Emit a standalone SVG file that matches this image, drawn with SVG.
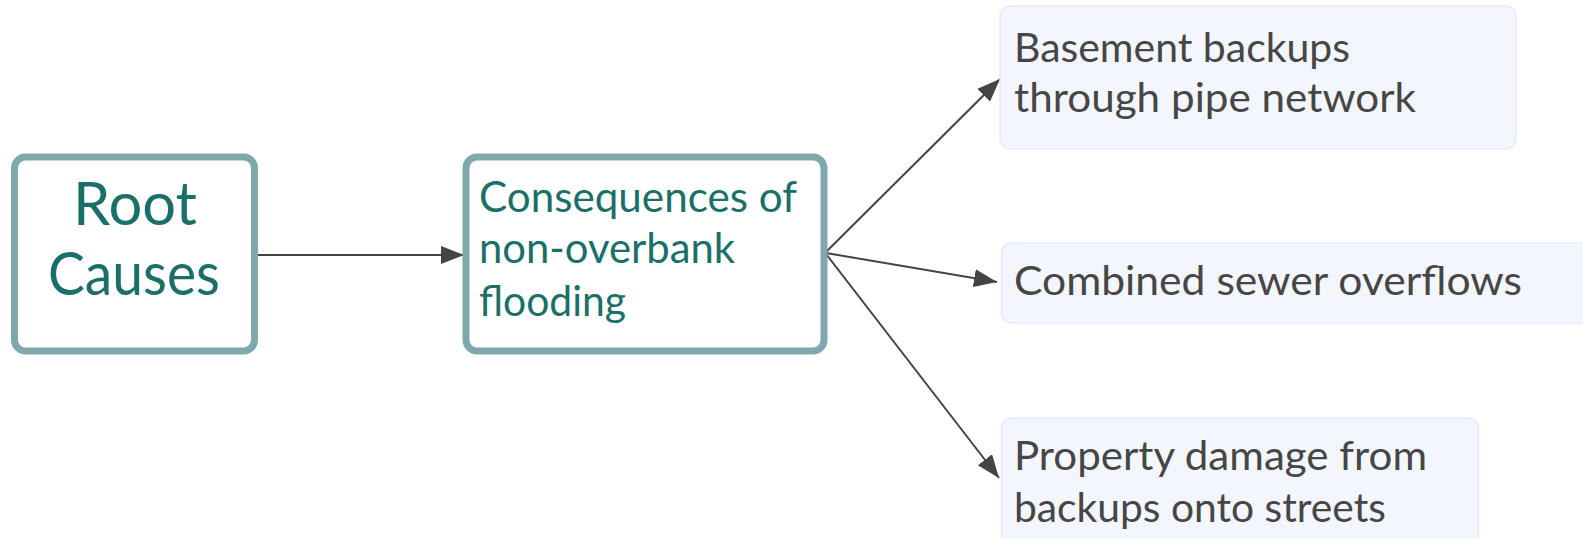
<svg xmlns="http://www.w3.org/2000/svg" width="1583" height="539" viewBox="0 0 1583 539">
  <style>
    .root { fill: #ffffff; stroke: #7fa8ad; stroke-width: 7; }
    .leaf { fill: #f4f6fd; stroke: #ebe8fb; stroke-width: 1.5; }
    .tt { font-family: "Lato", "Liberation Sans", sans-serif; fill: #1a7068; }
    .td { font-family: "Lato", "Liberation Sans", sans-serif; fill: #464646; font-size: 41px; }
    .edge { fill: none; stroke: #444444; stroke-width: 2; }
  </style>
  <defs>
    <marker id="arrow" markerUnits="userSpaceOnUse" markerWidth="24" markerHeight="20" refX="23" refY="9" orient="auto">
      <path d="M0,0 L23,9 L0,18 z" fill="#444444"/>
    </marker>
  </defs>

  <g id="edges">
    <line class="edge" x1="255" y1="255" x2="464" y2="255" marker-end="url(#arrow)"/>
    <line class="edge" x1="826" y1="252" x2="1000" y2="79" marker-end="url(#arrow)"/>
    <line class="edge" x1="826" y1="253" x2="997" y2="282" marker-end="url(#arrow)"/>
    <line class="edge" x1="826" y1="254" x2="999" y2="478" marker-end="url(#arrow)"/>
  </g>

  <g id="root-causes">
    <rect class="root" x="14.5" y="157" width="240" height="194" rx="11"/>
    <text class="tt" font-size="60" text-anchor="middle" x="135" y="225" textLength="124" lengthAdjust="spacingAndGlyphs">Root</text>
    <text class="tt" font-size="60" text-anchor="middle" x="134" y="295" textLength="172" lengthAdjust="spacingAndGlyphs">Causes</text>
  </g>

  <g id="consequences">
    <rect class="root" x="466" y="157" width="358" height="194" rx="11"/>
    <text class="tt" font-size="42" x="479" y="212" textLength="318" lengthAdjust="spacingAndGlyphs">Consequences of</text>
    <text class="tt" font-size="42" x="479" y="263" textLength="256" lengthAdjust="spacingAndGlyphs">non-overbank</text>
    <text class="tt" font-size="42" x="479" y="316" textLength="147" lengthAdjust="spacingAndGlyphs">flooding</text>
  </g>

  <g id="basement-backups">
    <rect class="leaf" x="1000" y="6" width="516" height="143" rx="10"/>
    <text class="td" x="1014" y="62" textLength="336" lengthAdjust="spacingAndGlyphs">Basement backups</text>
    <text class="td" x="1014" y="112" textLength="402" lengthAdjust="spacingAndGlyphs">through pipe network</text>
  </g>

  <g id="sewer-overflows">
    <rect class="leaf" x="1001.5" y="243" width="600" height="80" rx="10"/>
    <text class="td" x="1014" y="295" textLength="508" lengthAdjust="spacingAndGlyphs">Combined sewer overflows</text>
  </g>

  <g id="property-damage">
    <rect class="leaf" x="1001.5" y="418" width="477" height="160" rx="10"/>
    <text class="td" x="1014" y="470" textLength="413" lengthAdjust="spacingAndGlyphs">Property damage from</text>
    <text class="td" x="1014" y="522" textLength="372" lengthAdjust="spacingAndGlyphs">backups onto streets</text>
  </g>
</svg>
